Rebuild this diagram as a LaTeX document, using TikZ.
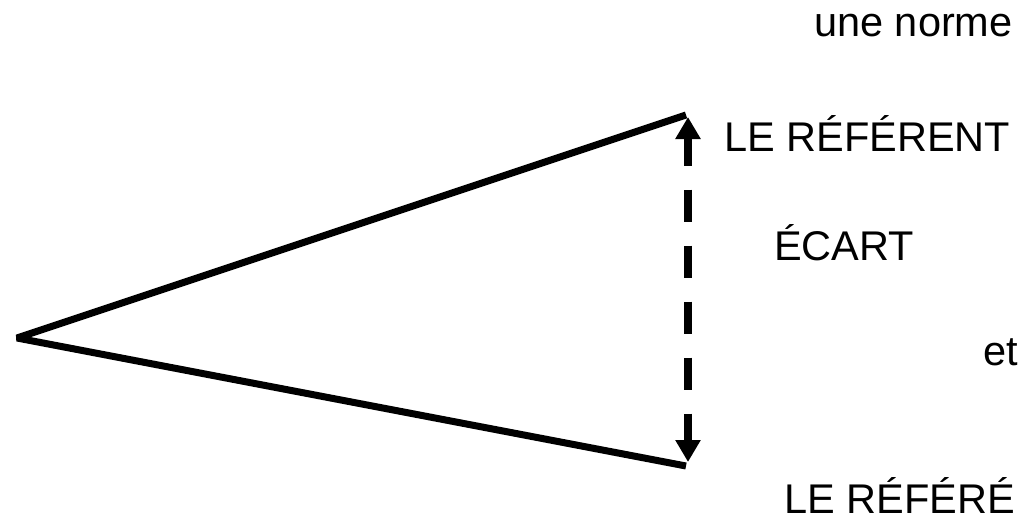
\documentclass[tikz,border=0pt]{standalone}
\usepackage{fontspec}
\setmainfont{Liberation Sans}
\usetikzlibrary{arrows.meta}
\begin{document}
\begin{tikzpicture}[x=1pt,y=-1pt,
  side/.style={line width=7pt,line join=bevel,line cap=butt},
  ecart/.style={line width=8pt,dash pattern=on 32pt off 24pt,dash phase=4pt,
    {Triangle[length=22pt,width=24pt]}-{Triangle[length=22pt,width=24pt]}},
  lbl/.style={anchor=base west,inner sep=0pt,font=\fontsize{41.5}{49}\selectfont}]
\useasboundingbox (0,0) rectangle (1036,527);
\coordinate (apex) at (17,338);
\coordinate (top) at (686,115);
\coordinate (bot) at (686,466);
\coordinate (ecarttop) at (688,117);
\coordinate (ecartbot) at (688,462);
\draw[side] (top) -- (apex) -- (bot);
\draw[ecart] (ecarttop) -- (ecartbot);
\node[lbl] (norme) at (814,37) {une norme};
\node[lbl] (referent) at (724,151) {LE RÉFÉRENT};
\node[lbl] (ecartlbl) at (774,260) {ÉCART};
\node[lbl] (et) at (983,365) {et};
\node[lbl] (refere) at (784,513) {LE RÉFÉRÉ};
\end{tikzpicture}
\end{document}
